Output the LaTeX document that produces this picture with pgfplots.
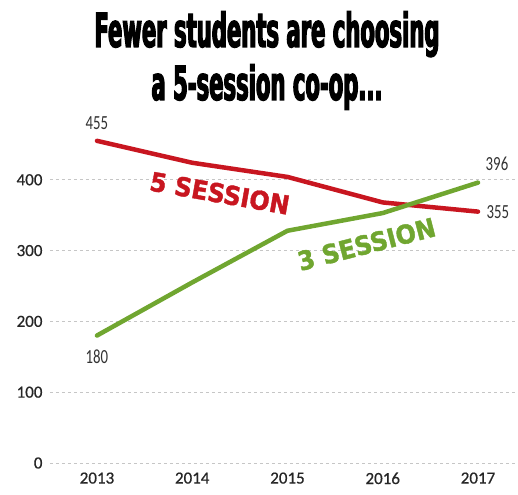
\documentclass[border=0pt]{standalone}
\usepackage{fontspec}
\usepackage{pgfplots}
\pgfplotsset{compat=1.18}
\newfontfamily\tickfont[FakeBold=0.6]{Carlito}
\newfontfamily\valfont[FakeStretch=0.74]{Carlito}
\newfontfamily\titlefont[FakeStretch=0.45,FakeBold=2.5]{DejaVu Sans Bold}
\newfontfamily\serfont[FakeStretch=0.92,FakeBold=1.5]{DejaVu Sans Bold}
\definecolor{fiveRed}{RGB}{200,22,32}
\definecolor{threeGreen}{RGB}{112,166,48}

\begin{document}
\begin{tikzpicture}
\begin{axis}[
    name=ax,
    scale only axis,
    width=468pt, height=325pt,
    xmin=2012.507, xmax=2017.42,
    ymin=0, ymax=459,
    xtick={2013,2014,2015,2016,2017},
    xticklabels={2013,2014,2015,2016,2017},
    ytick={0,100,200,300,400},
    axis line style={draw=none},
    major tick length=0pt,
    ymajorgrids=true,
    grid style={dashed, gray!45, line width=0.6pt},
    /pgf/number format/assume math mode=true,
    tick label style={font=\tickfont\fontsize{17}{17}\selectfont, text=black!85},
    yticklabel style={xshift=-4pt},
    xticklabel style={yshift=-6pt},
    clip=false,
]
\addplot[color=fiveRed, line width=4.5pt, line join=round, line cap=round]
    coordinates {
        (2013, 455)
        (2014, 424)
        (2015, 404)
        (2016, 368)
        (2017, 355)
    };
\addplot[color=threeGreen, line width=4.5pt, line join=round, line cap=round]
    coordinates {
        (2013, 180)
        (2014, 255)
        (2015, 328)
        (2016, 353)
        (2017, 396)
    };

% value labels
\node[font=\valfont\fontsize{20}{20}\selectfont, text=black!80] at (axis cs:2013,455) [yshift=18pt] {455};
\node[font=\valfont\fontsize{20}{20}\selectfont, text=black!80] at (axis cs:2013,180) [yshift=-21pt] {180};
\node[font=\valfont\fontsize{20}{20}\selectfont, text=black!80] at (axis cs:2017,396) [xshift=19pt, yshift=19pt] {396};
\node[font=\valfont\fontsize{20}{20}\selectfont, text=black!80] at (axis cs:2017,355) [xshift=20pt] {355};

% series labels
\node[font=\serfont\fontsize{26}{26}\selectfont, text=fiveRed, rotate=-10, inner sep=0pt] at (axis cs:2014.29,381) {5 SESSION};
\node[font=\serfont\fontsize{26}{26}\selectfont, text=threeGreen, rotate=14.5, inner sep=0pt] at (axis cs:2015.83,309) {3 SESSION};
\end{axis}

% title
\node[anchor=base, font=\titlefont\fontsize{47}{47}\selectfont] at ([xshift=217pt, yshift=91pt]ax.north west) {Fewer students are choosing};
\node[anchor=base, font=\titlefont\fontsize{47}{47}\selectfont] at ([xshift=217pt, yshift=38pt]ax.north west) {a 5-session co-op...};

\pgfresetboundingbox
\path[use as bounding box] ([xshift=-50pt, yshift=-32pt]ax.south west) rectangle ([yshift=138pt]ax.north east);
\end{tikzpicture}
\end{document}
